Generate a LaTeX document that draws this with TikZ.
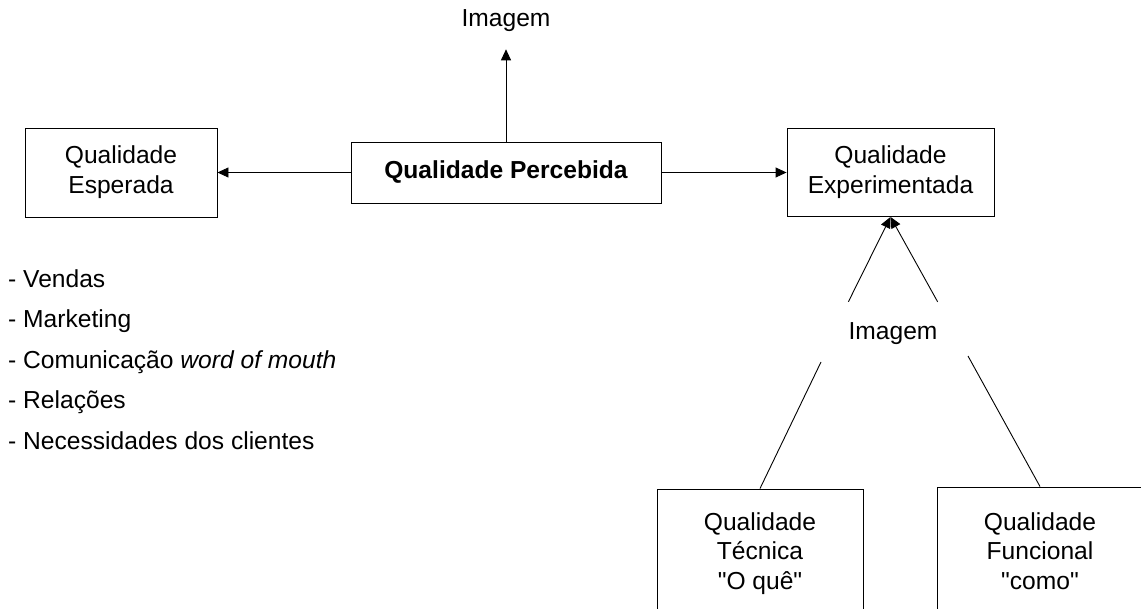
\documentclass[tikz,border=0pt]{standalone}
\usepackage{fontspec}
\setmainfont{Liberation Sans}[Ligatures=TeXOff]
\usetikzlibrary{arrows.meta}
\begin{document}
\begin{tikzpicture}[x=1pt,y=-1pt,
  txt/.style={font=\fontsize{24.6}{30}\selectfont},
  txtthree/.style={font=\fontsize{24.6}{29.5}\selectfont},
  box/.style={draw, line width=0.9pt, align=center, inner sep=0pt},
  lbl/.style={txt, inner sep=0pt},
  conn/.style={line width=0.9pt},
  arr/.style={conn, -{Triangle[length=11pt,width=10pt]}}]
\useasboundingbox (0,0) rectangle (1141,609);
\clip (0,0) rectangle (1141,609);

% central row
\node[box, txt, minimum width=192pt, minimum height=89pt] (esperada) at (121,172.5)
  {Qualidade\strut\\Esperada\strut};
\node[box, font={\fontsize{24.6}{30}\selectfont\bfseries}, minimum width=310pt, minimum height=61pt]
  (percebida) at (506,172.5) {Qualidade Percebida};
\node[box, txt, minimum width=207pt, minimum height=88pt] (experimentada) at (890.5,172.5)
  {Qualidade\strut\\Experimentada\strut};

% image labels
\node[lbl, anchor=base] (imgtop) at (506,27) {Imagem};
\node[lbl, minimum width=88pt, minimum height=64pt] (imgexp) at (893,334) {Imagem};

% lower boxes (open towards the bottom edge)
\node[box, txtthree, minimum width=206pt, minimum height=129.2pt] (tecnica) at (760,553.6)
  {Qualidade\strut\\Técnica\strut\\"O quê"\strut};
\node[box, txtthree, minimum width=206pt, minimum height=133.2pt] (funcional) at (1040,553.6)
  {Qualidade\strut\\Funcional\strut\\"como"\strut};

% list of factors
\foreach \t [count=\i] in {- Vendas, - Marketing, {- Comunicação \textit{word of mouth}},
                          - Relações, - Necessidades dos clientes}
  \node[lbl, anchor=base west] (v\i) at (8,{287.5+40.5*(\i-1)}) {\t};

% connectors
\coordinate (tecend) at (821,362);
\coordinate (funend) at (968,356);
\draw[arr] (percebida.west) -- (esperada.east);
\draw[arr] (percebida.east) -- (experimentada.west);
\draw[arr, shorten >=17pt] (percebida.north) -- (imgtop.south);
\draw[arr] (imgexp.north west) -- (experimentada.south);
\draw[arr] (imgexp.north east) -- (experimentada.south);
\draw[conn] (tecnica.north) -- (tecend);
\draw[conn] (funcional.north) -- (funend);
\end{tikzpicture}
\end{document}
